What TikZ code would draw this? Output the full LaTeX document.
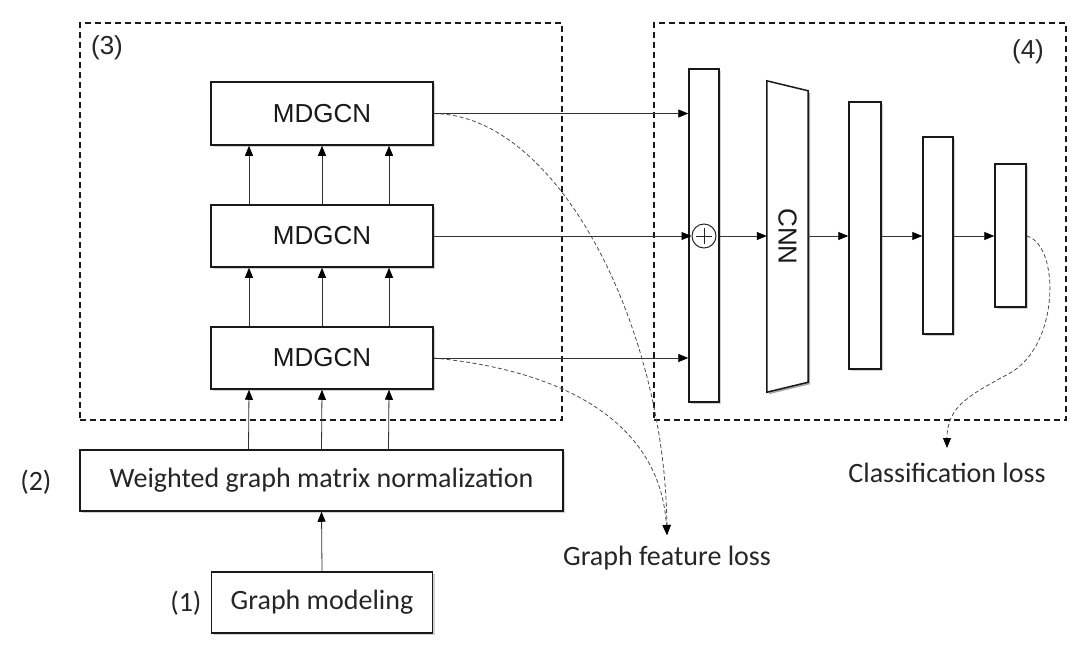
\documentclass[tikz,border=0pt]{standalone}
\usepackage{fontspec}
\setmainfont{Liberation Sans}
\newfontfamily\yh{Carlito}
\usetikzlibrary{arrows.meta,shadows,calc}
\begin{document}
\begin{tikzpicture}[x=1pt,y=-1pt,
  blk/.style={draw=black!90, line width=1.5pt, fill=white, inner sep=0pt,
    drop shadow={shadow xshift=2pt, shadow yshift=-2pt, opacity=0.35}},
  dashbox/.style={draw=black!90, line width=1.3pt, dash pattern=on 6pt off 4pt, inner sep=0pt},
  arr/.style={draw=black!80, line width=0.8pt, -{Triangle[length=10pt,width=8pt,fill=black,color=black]}},
  lossarr/.style={draw=black!70, line width=0.8pt, dash pattern=on 4pt off 2.5pt, -{Triangle[length=10pt,width=8pt,fill=black,color=black,sep=0pt]}},
  arial/.style={font=\fontsize{26}{30}\selectfont, text=black!90},
  yhf/.style={font=\yh\fontsize{28}{32}\selectfont, text=black!85},
  lab/.style={font=\fontsize{26}{30}\selectfont, text=black!85},
  plusc/.style={draw=black!85, line width=1pt, circle, minimum size=24pt, inner sep=0pt,
    path picture={\draw[black!85, line width=1pt] ([xshift=-8pt]path picture bounding box.center) -- ([xshift=8pt]path picture bounding box.center)
    ([yshift=-8pt]path picture bounding box.center) -- ([yshift=8pt]path picture bounding box.center);}}
]
\useasboundingbox[fill=white] (0,0) rectangle (1091,646);

% dashed groups
\node[dashbox, minimum width=482pt, minimum height=397pt] (g3) at (321,221.5) {};
\node[dashbox, minimum width=412pt, minimum height=397pt] (g4) at (860,221.5) {};
\node[lab] (l3) at (107,48) {(3)};
\node[lab] (l4) at (1028,52) {(4)};

% loss targets
\coordinate (gf) at (667,535);
\node[yhf] (gfl) at (667,558) {Graph feature loss};
\coordinate (cl) at (947,448);
\node[yhf] (cll) at (947,473) {Classification loss};

% MDGCN stack
\node[blk, arial, minimum width=222pt, minimum height=63pt] (m3) at (322,113.5) {MDGCN};
\node[blk, arial, minimum width=222pt, minimum height=62pt] (m2) at (322,236) {MDGCN};
\node[blk, arial, minimum width=222pt, minimum height=62pt] (m1) at (322,358) {MDGCN};

% loss curves
\draw[lossarr] (m3.east) .. controls (560,115) and (665,330) .. (gf);
\draw[lossarr] (m1.east) .. controls (560,370) and (660,420) .. (gf);

% lower boxes
\node[blk, yhf, minimum width=483pt, minimum height=61pt] (wg) at (321.5,480.5) {Weighted graph matrix normalization};
\node[blk, yhf, minimum width=221pt, minimum height=61pt] (gm) at (322,602.5) {Graph modeling};
\node[yhf, anchor=east] (l2) at (55,482) {(2)};
\node[yhf, anchor=east] (l1) at (205,603) {(1)};

\draw[arr] (gm.north) -- (wg.south);
\foreach \dx in {-73,0,67}{
  \draw[arr] ([xshift=\dx pt]wg.north) -- ([xshift=\dx pt]m1.south);
  \draw[arr] ([xshift=\dx pt]m1.north) -- ([xshift=\dx pt]m2.south);
  \draw[arr] ([xshift=\dx pt]m2.north) -- ([xshift=\dx pt]m3.south);
}

% right part
\node[blk, minimum width=30pt, minimum height=333pt] (cat) at (704,235.5) {};
\node[plusc] (plus) at (704,236) {};

\node[minimum width=41pt, minimum height=311pt, inner sep=0pt] (cnn) at (787.5,236.5) {};
\fill[black, opacity=0.35] ([shift={(2pt,-2pt)}]cnn.north west) -- ([shift={(2pt,-2pt)}]$(cnn.north east)+(0,10)$) -- ([shift={(2pt,-2pt)}]$(cnn.south east)+(0,-10)$) -- ([shift={(2pt,-2pt)}]cnn.south west) -- cycle;
\draw[black!90, line width=1.5pt, fill=white] (cnn.north west) -- ($(cnn.north east)+(0,10)$) -- ($(cnn.south east)+(0,-10)$) -- (cnn.south west) -- cycle;
\node[arial, rotate=-90] (cnnt) at (cnn.center) {CNN};

\node[blk, minimum width=32pt, minimum height=267pt] (b3) at (865,235.5) {};
\node[blk, minimum width=30pt, minimum height=197pt] (b4) at (938,235.5) {};
\node[blk, minimum width=31pt, minimum height=143pt] (b5) at (1010.5,235.5) {};

\draw[arr] (m3.east) -- (m3.east -| cat.west);
\draw[arr] (m2.east) -- (plus.west);
\draw[arr] (m1.east) -- (m1.east -| cat.west);
\draw[arr] (cat.east |- plus.east) -- (cnn.west |- plus.east);
\draw[arr] (cnn.east |- plus.east) -- (b3.west |- plus.east);
\draw[arr] (b3.east |- plus.east) -- (b4.west |- plus.east);
\draw[arr] (b4.east |- plus.east) -- (b5.west |- plus.east);

\draw[lossarr] (b5.east |- plus.east) .. controls (1060,245) and (1060,345) .. (1010,373)
  .. controls (972,394) and (947,405) .. (cl);
\end{tikzpicture}
\end{document}
